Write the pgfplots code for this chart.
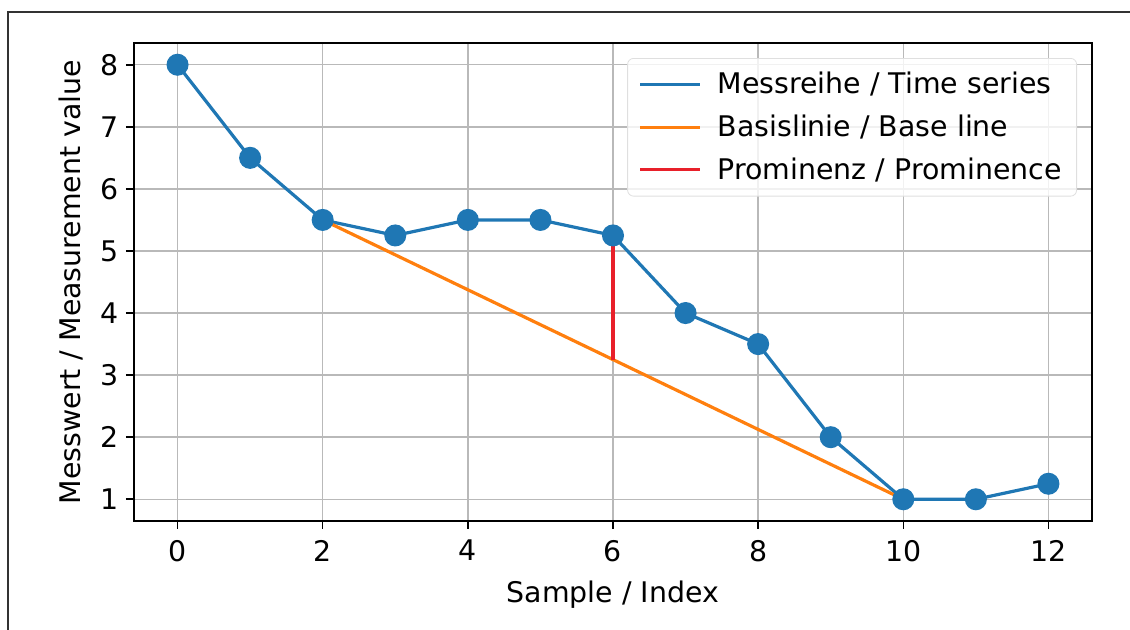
\documentclass[border=0pt]{standalone}
\usepackage{pgfplots}
\pgfplotsset{compat=1.18}
\usepackage{fontspec}
\setmainfont{DejaVu Sans}

\definecolor{mplblue}{HTML}{1F77B4}
\definecolor{mplorange}{HTML}{FF7F0E}
\definecolor{mplred}{HTML}{E8202A}

\begin{document}
\begin{tikzpicture}
% 1 px of the reference = 0.5pt
\useasboundingbox (-67pt,-54.5pt) rectangle (498pt,260.5pt);
\draw[line width=1pt, black!80] (-63pt,-60pt) -- (-63pt,254.5pt) -- (500pt,254.5pt);
\begin{axis}[
    at={(0pt,0pt)}, anchor=south west,
    scale only axis,
    width=479pt, height=239pt,
    xmin=-0.6, xmax=12.6,
    ymin=0.65, ymax=8.35,
    xtick={0,2,...,12},
    ytick={1,2,...,8},
    grid=major,
    grid style={line width=0.7pt, gray!55},
    axis line style={line width=0.8pt, black},
    tick style={line width=0.8pt, black},
    tick align=outside,
    tick pos=left,
    major tick length=4pt,
    ticklabel style={font=\fontsize{14.2}{16}\selectfont},
    xticklabel style={yshift=-2pt},
    /pgf/number format/assume math mode=true,
    xlabel={Sample / Index},
    ylabel={Messwert / Measurement value},
    label style={font=\fontsize{14.2}{16}\selectfont},
    xlabel style={yshift=-3pt},
    ylabel style={yshift=2pt},
    legend style={
        at={(1,1)}, anchor=north east, xshift=-7.5pt, yshift=-7.5pt,
        draw=gray!25, rounded corners=3pt, fill=white, fill opacity=0.8, text opacity=1,
        font=\fontsize{14.2}{16}\selectfont,
        row sep=5pt, inner xsep=5.5pt, inner ysep=5pt,
        /tikz/every odd column/.append style={column sep=6pt},
    },
    legend cell align=left,
    legend image code/.code={\draw[#1] (0pt,0pt) -- (30pt,0pt);},
]
\addplot[mplblue, line width=1.6pt, mark=*, mark size=4.7pt, mark options={solid, fill=mplblue, draw=mplblue}] coordinates {
    (0,8) (1,6.5) (2,5.5) (3,5.25) (4,5.5) (5,5.5) (6,5.25)
    (7,4) (8,3.5) (9,2) (10,1) (11,1) (12,1.25)
};
\addlegendentry{Messreihe / Time series}
\addplot[mplorange, line width=1.6pt] coordinates {(2,5.5) (10,1)};
\addlegendentry{Basislinie / Base line}
\addplot[mplred, line width=1.6pt] coordinates {(6,3.25) (6,5.25)};
\addlegendentry{Prominenz / Prominence}
\end{axis}
\end{tikzpicture}
\end{document}
